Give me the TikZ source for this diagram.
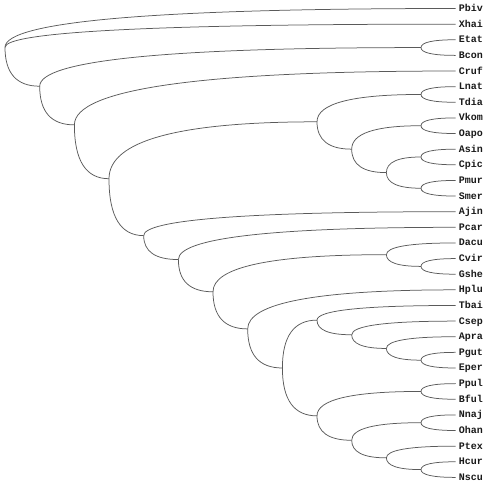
\documentclass[tikz,border=0pt]{standalone}
\usepackage{fontspec}
\setmonofont{Liberation Mono}
\usetikzlibrary{calc}
\definecolor{treeInk}{RGB}{25,25,25}
\definecolor{treeLine}{RGB}{90,90,90}
\tikzset{
  % leaf labels, set to the right of the tip
  leaf/.style={
    anchor=west, inner xsep=3pt, inner ysep=0pt,
    font=\ttfamily\bfseries\fontsize{10}{10}\selectfont, text=treeInk,
    text height=6pt, text depth=0pt
  },
  % curved branch
  edge/.style={draw=treeLine, line width=0.75pt},
}
% a branch leaves the parent vertically and meets the child horizontally
\newcommand{\branch}[2]{%
  \draw[edge] (#1) .. controls ($(#1)!2/3!(#1|-#2)$) and ($(#1|-#2)!1/3!(#2)$) .. (#2);}

\begin{document}
\begin{tikzpicture}[x=1pt, y=-1pt]
\useasboundingbox (0,0) rectangle (490,486);

% ================================ leaves ===================================
\foreach \name [count=\i from 0] in {Pbiv,Xhai,Etat,Bcon,Cruf,Lnat,Tdia,Vkom,
    Oapo,Asin,Cpic,Pmur,Smer,Ajin,Pcar,Dacu,Cvir,Gshe,Hplu,Tbai,Csep,Apra,Pgut,
    Eper,Ppul,Bful,Nnaj,Ohan,Ptex,Hcur,Nscu}
  \node[leaf] (\name) at (455.7,{8.5+15.63*\i}) {\name};

% ============================ internal nodes ===============================
\coordinate (root) at (5.0,47.36);
\coordinate (n2)   at (39.7,86.22);
\coordinate (eb)   at (421.0,47.58);
\coordinate (n3)   at (74.4,124.87);
\coordinate (n4)   at (109.0,178.72);
\coordinate (cA)   at (317.0,121.82);
\coordinate (lt)   at (421.0,94.47);
\coordinate (vap)  at (351.7,149.17);
\coordinate (vo)   at (421.0,125.73);
\coordinate (acps) at (386.4,172.62);
\coordinate (ac)   at (421.0,156.99);
\coordinate (ps)   at (421.0,188.25);
\coordinate (n5)   at (143.7,235.62);
\coordinate (n6)   at (178.4,259.56);
\coordinate (n7)   at (213.0,291.79);
\coordinate (dcg)  at (386.4,254.67);
\coordinate (cg)   at (421.0,266.40);
\coordinate (n8)   at (247.7,328.92);
\coordinate (n9)   at (282.4,367.99);
\coordinate (cT)   at (317.0,320.12);
\coordinate (cap)  at (351.7,334.78);
\coordinate (ape)  at (386.4,348.45);
\coordinate (pe)   at (421.0,360.18);
\coordinate (cP)   at (317.0,415.86);
\coordinate (pb)   at (421.0,391.44);
\coordinate (nph)  at (351.7,440.28);
\coordinate (no)   at (421.0,422.70);
\coordinate (phn)  at (386.4,457.86);
\coordinate (hn)   at (421.0,469.59);

% =============================== branches ==================================
\foreach \p/\c in {root/Pbiv.west, root/Xhai.west, root/n2,
    n2/eb, n2/n3, eb/Etat.west, eb/Bcon.west,
    n3/Cruf.west, n3/n4, n4/cA, n4/n5,
    cA/lt, cA/vap, lt/Lnat.west, lt/Tdia.west,
    vap/vo, vap/acps, vo/Vkom.west, vo/Oapo.west,
    acps/ac, acps/ps, ac/Asin.west, ac/Cpic.west, ps/Pmur.west, ps/Smer.west,
    n5/Ajin.west, n5/n6, n6/Pcar.west, n6/n7,
    n7/dcg, n7/n8, dcg/Dacu.west, dcg/cg, cg/Cvir.west, cg/Gshe.west,
    n8/Hplu.west, n8/n9, n9/cT, n9/cP,
    cT/Tbai.west, cT/cap, cap/Csep.west, cap/ape,
    ape/Apra.west, ape/pe, pe/Pgut.west, pe/Eper.west,
    cP/pb, cP/nph, pb/Ppul.west, pb/Bful.west,
    nph/no, nph/phn, no/Nnaj.west, no/Ohan.west,
    phn/Ptex.west, phn/hn, hn/Hcur.west, hn/Nscu.west}
  {\branch{\p}{\c}}

\end{tikzpicture}
\end{document}
